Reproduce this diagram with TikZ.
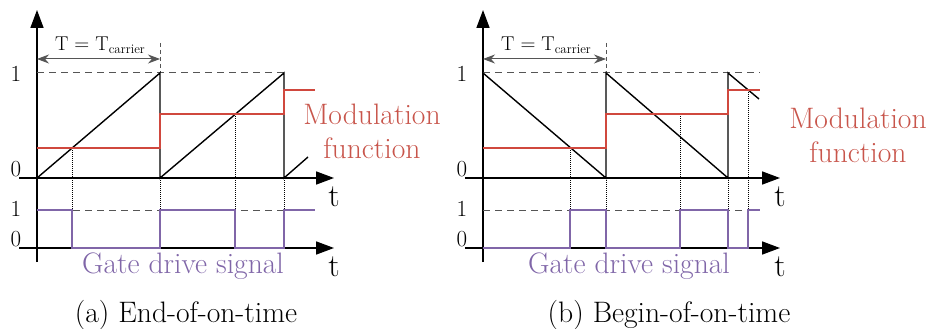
\documentclass[tikz,border=0pt]{standalone}
\usepackage{fontspec}
\setmainfont{Latin Modern Roman}
\usetikzlibrary{arrows.meta}
\definecolor{modred}{RGB}{208,72,62}
\definecolor{modtext}{RGB}{200,85,75}
\definecolor{gatepurple}{RGB}{128,102,168}
\definecolor{dashgray}{RGB}{85,85,85}
\tikzset{
  axisline/.style={line width=1.6pt, -{Triangle[length=18pt,width=13pt]}},
  carrier/.style={line width=1.4pt, black},
  modfn/.style={line width=1.4pt, modred},
  gatesig/.style={line width=1.6pt, gatepurple},
  refdash/.style={line width=1pt, dashgray, dash pattern=on 7pt off 5pt},
  guide/.style={line width=0.5pt, black, dash pattern=on 0.8pt off 1.2pt},
  period/.style={line width=1pt, dashgray, {Stealth[length=12pt,width=9pt]}-{Stealth[length=12pt,width=9pt]}},
  axlbl/.style={font=\fontsize{23}{26}\selectfont, inner sep=0pt},
  gatelbl/.style={font=\fontsize{23}{26}\selectfont, inner sep=0pt},
  tlbl/.style={font=\fontsize{32}{36}\selectfont, inner sep=0pt},
  bigtext/.style={font=\fontsize{29.6}{34}\selectfont, inner sep=0pt},
  perlbl/.style={font=\fontsize{20}{24}\selectfont, inner sep=0pt},
}
\newcommand{\carriersub}{T\lower3pt\hbox{\fontsize{13}{15}\selectfont carrier}}
\begin{document}
\begin{tikzpicture}[x=1pt,y=-1pt]
\useasboundingbox (0,0) rectangle (930,329);

% ---------------- common axes for both panels ----------------
\foreach \dx/\nm in {0/a,446/b}{
  \begin{scope}[xshift=\dx pt]
    \draw[axisline] (37,262) -- (37,10);
    \draw[axisline] (19,178) -- (334,178);
    \draw[axisline] (19,248) -- (334,248);
    \node[axlbl] (one\nm) at (16,74) {1};
    \node[axlbl] (zero\nm) at (16,169) {0};
    \node[gatelbl] (gone\nm) at (16,209) {1};
    \node[gatelbl] (gzero\nm) at (16,239) {0};
    \node[tlbl] (tup\nm) at (334,197) {t};
    \node[tlbl] (tlo\nm) at (334,267) {t};
    \draw[period] (37,59) -- (160,59);
    \draw[refdash, dash pattern=on 4pt off 3pt] (160,43) -- (160,73);
    \node[perlbl] (per\nm) at (100,45) {T $=$ \carriersub};
    \node[bigtext, gatepurple] (gate\nm) at (183,266) {Gate drive signal};
  \end{scope}
}

% ---------------- panel (a): end-of-on-time ----------------
\draw[refdash] (37,73) -- (284,73);
\draw[refdash] (37,210) -- (315,210);
\draw[guide] (72,148) -- (72,210);
\draw[guide] (160,178) -- (160,248);
\draw[guide] (235,114) -- (235,210);
\draw[guide] (284,178) -- (284,248);
\draw[carrier] (37,178) -- (160,73) -- (160,178) -- (284,73) -- (284,178) -- (308,157);
\draw[modfn] (37,148) -- (160,148) -- (160,114) -- (284,114) -- (284,90) -- (315,90);
\draw[gatesig] (37,210) -- (72,210) -- (72,248) -- (160,248) -- (160,210) -- (235,210)
  -- (235,248) -- (284,248) -- (284,210) -- (315,210);
\node[bigtext, modtext, align=center] (moda) at (372,131) {Modulation\\function};
\node[bigtext] (capa) at (186,315) {(a) End-of-on-time};

% ---------------- panel (b): begin-of-on-time ----------------
\draw[refdash] (483,73) -- (760,73);
\draw[refdash] (483,210) -- (760,210);
\draw[guide] (570,148) -- (570,210);
\draw[guide] (606,178) -- (606,210);
\draw[guide] (680,114) -- (680,210);
\draw[guide] (728,178) -- (728,210);
\draw[guide] (748,90) -- (748,210);
\draw[carrier] (483,178) -- (483,73) -- (606,178) -- (606,73) -- (728,178) -- (728,73) -- (759,99);
\draw[modfn] (483,148) -- (606,148) -- (606,114) -- (728,114) -- (728,90) -- (760,90);
\draw[gatesig] (483,248) -- (570,248) -- (570,210) -- (606,210) -- (606,248) -- (680,248)
  -- (680,210) -- (728,210) -- (728,248) -- (748,248) -- (748,210) -- (760,210);
\node[bigtext, modtext, align=center] (modb) at (858,135) {Modulation\\function};
\node[bigtext] (capb) at (669,315) {(b) Begin-of-on-time};
\end{tikzpicture}
\end{document}
